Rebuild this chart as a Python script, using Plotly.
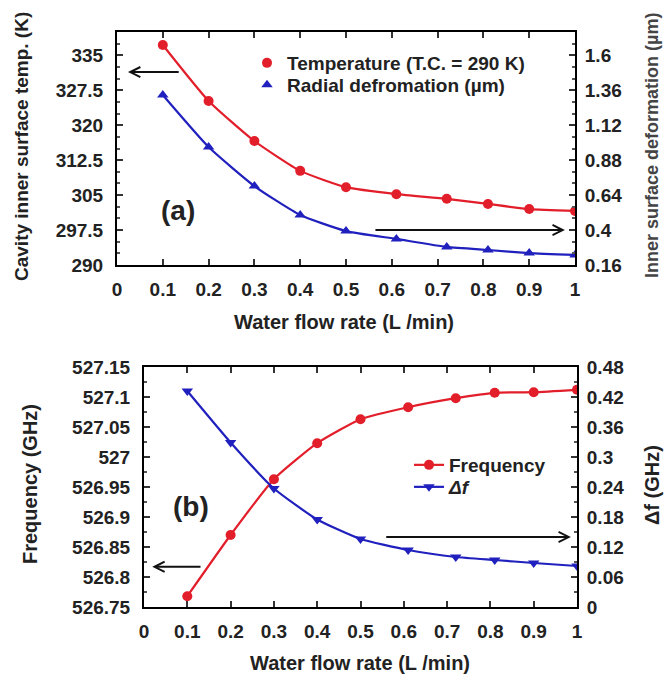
import plotly.graph_objects as go

# Water flow rate (L/min)
flow = [0.1, 0.2, 0.3, 0.4, 0.5, 0.61, 0.72, 0.81, 0.9, 1.0]

# (a) cavity inner surface temperature (K) and radial deformation (um)
temperature = [337.2, 325.2, 316.6, 310.2, 306.7, 305.2, 304.2, 303.1, 302.0, 301.6]
deformation = [1.327, 0.970, 0.702, 0.503, 0.393, 0.339, 0.284, 0.263, 0.242, 0.229]

# (b) frequency (GHz) and frequency shift (GHz)
frequency = [526.768, 526.870, 526.963, 527.023, 527.063, 527.083, 527.098, 527.107, 527.108, 527.112]
delta_f = [0.432, 0.329, 0.237, 0.175, 0.136, 0.114, 0.100, 0.094, 0.088, 0.082]

# tick labels
x_ticks = [0, 0.1, 0.2, 0.3, 0.4, 0.5, 0.6, 0.7, 0.8, 0.9, 1.0]
x_tick_text = ["0", "0.1", "0.2", "0.3", "0.4", "0.5", "0.6", "0.7", "0.8", "0.9", "1"]
temp_ticks = [290, 297.5, 305, 312.5, 320, 327.5, 335]
temp_tick_text = ["290", "297.5", "305", "312.5", "320", "327.5", "335"]
defo_ticks = [0.16, 0.4, 0.64, 0.88, 1.12, 1.36, 1.6]
defo_tick_text = ["0.16", "0.4", "0.64", "0.88", "1.12", "1.36", "1.6"]
freq_ticks = [526.75, 526.8, 526.85, 526.9, 526.95, 527.0, 527.05, 527.1, 527.15]
freq_tick_text = ["526.75", "526.8", "526.85", "526.9", "526.95", "527", "527.05", "527.1", "527.15"]
df_ticks = [0, 0.06, 0.12, 0.18, 0.24, 0.3, 0.36, 0.42, 0.48]
df_tick_text = ["0", "0.06", "0.12", "0.18", "0.24", "0.3", "0.36", "0.42", "0.48"]

RED = "rgb(226,30,42)"
BLUE = "rgb(32,32,190)"
INK = "#222222"
FONT = "Liberation Sans"

W, H = 664, 677


def px_x(p):
    return p / W


def px_y(p):
    return 1 - p / H


fig = go.Figure()

line_kw = dict(shape="spline", smoothing=0.5, width=2.2)

fig.add_trace(go.Scatter(x=flow, y=temperature, mode="lines+markers", xaxis="x", yaxis="y",
                         line=dict(color=RED, **line_kw),
                         marker=dict(symbol="circle", size=10, color=RED),
                         showlegend=False))
fig.add_trace(go.Scatter(x=flow, y=deformation, mode="lines+markers", xaxis="x", yaxis="y2",
                         line=dict(color=BLUE, **line_kw),
                         marker=dict(symbol="triangle-up", size=10, color=BLUE),
                         showlegend=False))
# legend entries for panel (a): marker-only symbols
fig.add_trace(go.Scatter(x=[None], y=[None], mode="markers", xaxis="x", yaxis="y",
                         marker=dict(symbol="circle", size=10, color=RED),
                         name="Temperature (T.C. = 290 K)", legend="legend"))
fig.add_trace(go.Scatter(x=[None], y=[None], mode="markers", xaxis="x", yaxis="y",
                         marker=dict(symbol="triangle-up", size=10, color=BLUE),
                         name="Radial defromation (µm)", legend="legend3"))

fig.add_trace(go.Scatter(x=flow, y=frequency, mode="lines+markers", xaxis="x2", yaxis="y3",
                         line=dict(color=RED, **line_kw),
                         marker=dict(symbol="circle", size=10, color=RED),
                         name="Frequency", legend="legend2"))
fig.add_trace(go.Scatter(x=flow, y=delta_f, mode="lines+markers", xaxis="x2", yaxis="y4",
                         line=dict(color=BLUE, **line_kw),
                         marker=dict(symbol="triangle-down", size=10, color=BLUE),
                         name="<i>Δf</i>", legend="legend4"))

tick_font = dict(family=FONT, size=19, color=INK, weight="bold")

x_common = dict(range=[0, 1], tickvals=x_ticks, ticktext=x_tick_text, ticks="inside", ticklen=6,
                tickwidth=1.5, tickcolor="#333", showline=True, linecolor="black", linewidth=2,
                mirror="ticks", showgrid=False, zeroline=False, tickfont=tick_font,
                ticklabelstandoff=6, automargin=False)
y_common = dict(ticks="inside", ticklen=6, tickwidth=1.5, tickcolor="#333", showline=True,
                linecolor="black", linewidth=2, showgrid=False, zeroline=False, tickfont=tick_font,
                automargin=False)

top_dom = [px_y(265), px_y(32)]
bot_dom = [px_y(607), px_y(367)]

legend_font = dict(family=FONT, size=19, color=INK, weight="bold")


def legend_at(left_px, center_px):
    return dict(x=px_x(left_px), y=px_y(center_px), xanchor="left", yanchor="middle",
                bgcolor="rgba(0,0,0,0)", font=legend_font, borderwidth=0)


fig.update_layout(
    width=W, height=H, margin=dict(l=0, r=0, t=0, b=0, autoexpand=False),
    paper_bgcolor="white", plot_bgcolor="white",
    xaxis=dict(domain=[px_x(117), px_x(575)], anchor="y", **x_common),
    yaxis=dict(domain=top_dom, anchor="x", range=[290, 340], tickvals=temp_ticks,
               ticktext=temp_tick_text, ticklabelstandoff=8,
               minor=dict(dtick=2.5, tick0=290, ticks="inside", ticklen=3, tickcolor="#555"),
               **y_common),
    yaxis2=dict(anchor="x", overlaying="y", side="right", range=[0.16, 1.76], tickvals=defo_ticks,
                ticktext=defo_tick_text, ticklabelstandoff=4,
                minor=dict(dtick=0.08, tick0=0.16, ticks="inside", ticklen=3, tickcolor="#555"),
                **y_common),
    xaxis2=dict(domain=[px_x(144), px_x(577)], anchor="y3", **x_common),
    yaxis3=dict(domain=bot_dom, anchor="x2", range=[526.75, 527.15], tickvals=freq_ticks,
                ticktext=freq_tick_text, ticklabelstandoff=8,
                minor=dict(dtick=0.025, tick0=526.75, ticks="inside", ticklen=3, tickcolor="#555"),
                **y_common),
    yaxis4=dict(anchor="x2", overlaying="y3", side="right", range=[0, 0.48], tickvals=df_ticks,
                ticktext=df_tick_text, ticklabelstandoff=4,
                minor=dict(dtick=0.03, tick0=0, ticks="inside", ticklen=3, tickcolor="#555"),
                **y_common),
    legend=legend_at(247, 63),
    legend3=legend_at(247, 85),
    legend2=legend_at(409, 465),
    legend4=legend_at(409, 487),
)

title_font = dict(family=FONT, size=19, color=INK, weight="bold")
big_title = dict(family=FONT, size=20, color=INK, weight="bold")
annotations = [
    dict(text="Cavity inner surface temp. (K)", x=px_x(22), y=px_y(147), textangle=-90),
    dict(text="Inner surface deformation (µm)", x=px_x(652), y=px_y(146), textangle=-90,
         font=dict(family=FONT, size=18, color="#444", weight="bold")),
    dict(text="Water flow rate (L /min)", x=px_x(344), y=px_y(322), font=big_title),
    dict(text="Frequency (GHz)", x=px_x(30), y=px_y(484), textangle=-90, font=big_title),
    dict(text="Δf (GHz)", x=px_x(652), y=px_y(485), textangle=-90, font=big_title),
    dict(text="Water flow rate (L /min)", x=px_x(360), y=px_y(663), font=big_title),
]
for a in annotations:
    a.setdefault("font", title_font)
    fig.add_annotation(xref="paper", yref="paper", showarrow=False, xanchor="center", yanchor="middle", **a)

# panel labels
fig.add_annotation(text="(a)", x=0.133, y=301.8, xref="x", yref="y", showarrow=False,
                   font=dict(family=FONT, size=28, color=INK, weight="bold"))
fig.add_annotation(text="(b)", x=0.109, y=526.917, xref="x2", yref="y3", showarrow=False,
                   font=dict(family=FONT, size=28, color=INK, weight="bold"))

# arrows pointing to the axis each curve is read against
arrow_kw = dict(text="", showarrow=True, arrowhead=5, arrowsize=1, arrowwidth=2, arrowcolor="#111")
fig.add_annotation(x=0.024, y=331.4, ax=0.138, ay=331.4, xref="x", yref="y", axref="x", ayref="y", **arrow_kw)
fig.add_annotation(x=0.978, y=0.4, ax=0.561, ay=0.4, xref="x", yref="y2", axref="x", ayref="y2", **arrow_kw)
fig.add_annotation(x=0.019, y=526.817, ax=0.134, ay=526.817, xref="x2", yref="y3", axref="x2", ayref="y3", **arrow_kw)
fig.add_annotation(x=0.986, y=0.14, ax=0.556, ay=0.14, xref="x2", yref="y4", axref="x2", ayref="y4", **arrow_kw)

fig.write_html("out.html")
